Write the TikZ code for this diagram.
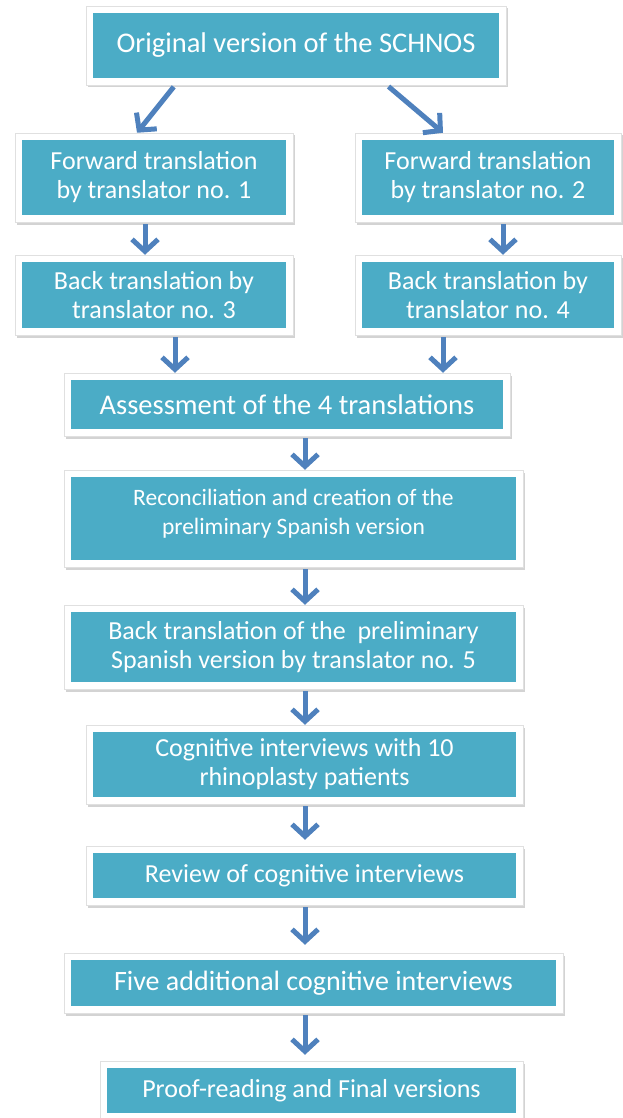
\documentclass[tikz,border=0pt]{standalone}
\usepackage{fontspec}
\setmainfont{Carlito}
\usetikzlibrary{positioning,arrows.meta,shadows}

\definecolor{boxteal}{RGB}{75,172,198}
\definecolor{arrowblue}{RGB}{79,129,189}

\begin{document}
\begin{tikzpicture}[x=1pt, y=-1pt,
  every node/.style={font=\fontsize{26}{29}\selectfont},
  stepbox/.style={rectangle, fill=white, draw=black!12, line width=0.5pt,
    text=white, align=center, inner sep=0pt,
    drop shadow={shadow xshift=1.5pt, shadow yshift=-2.5pt, opacity=0.35},
    path picture={\fill[boxteal]
      ([shift={(7pt,7pt)}]path picture bounding box.south west) rectangle
      ([shift={(-7pt,-7pt)}]path picture bounding box.north east);}},
  bigtext/.style={font=\fontsize{28.5}{32}\selectfont},
  flowarrow/.style={arrowblue, line width=5pt,
    -{Straight Barb[length=12pt, width=26pt]}, shorten <=2pt}]
  %----- page size (image coordinates, y downwards) -----
  \useasboundingbox (0,0) rectangle (623,1118);
  \coordinate (spine) at (305,0);

  %----- boxes -----
  \node[stepbox, bigtext, minimum width=420pt, minimum height=79pt] (orig) at (296,45.5)
    {Original version of the SCHNOS};
  % two translation branches
  \node[stepbox, minimum width=278pt, minimum height=89pt] (fwdA) at (154,177.5)
    {Forward translation\\by translator no. 1};
  \node[stepbox, minimum width=266pt, minimum height=89pt] (fwdB) at (488,177.5)
    {Forward translation\\by translator no. 2};
  \node[stepbox, minimum width=278pt, minimum height=80pt] (backA) at (154,295)
    {Back translation by\\translator no. 3};
  \node[stepbox, minimum width=266pt, minimum height=80pt] (backB) at (488,295)
    {Back translation by\\translator no. 4};
  % main column
  \node[stepbox, bigtext, minimum width=446pt, minimum height=63pt] (assess) at (287,404.5)
    {Assessment of the 4 translations};
  \node[stepbox, minimum width=459pt, minimum height=97pt, text depth=14pt,
        font=\fontsize{23.5}{29}\selectfont] (recon) at (293.5,518.5)
    {Reconciliation and creation of the\\preliminary Spanish version};
  \node[stepbox, minimum width=459pt, minimum height=84pt] (backprel) at (293.5,647)
    {Back translation of the\ \ preliminary\\Spanish version by translator no. 5};
  \node[stepbox, minimum width=437pt, minimum height=79pt] (cogn) at (304.5,764.5)
    {Cognitive interviews with 10\\rhinoplasty patients};
  \node[stepbox, minimum width=437pt, minimum height=59pt] (review) at (304.5,875.5)
    {Review of cognitive interviews};
  \node[stepbox, minimum width=499pt, minimum height=60pt,
        font=\fontsize{28}{32}\selectfont] (five) at (313.5,983)
    {Five additional cognitive interviews};
  \node[stepbox, minimum width=423pt, minimum height=59pt] (proof) at (311.5,1090.5)
    {Proof-reading and Final versions};

  %----- arrows -----
  \draw[flowarrow] ([xshift=-121pt]orig.south) -- ([xshift=-17pt]fwdA.north);
  \draw[flowarrow] ([xshift=91pt]orig.south) -- ([xshift=-45pt]fwdB.north);
  \draw[flowarrow] ([xshift=-9pt]fwdA.south) -- ([xshift=-9pt]backA.north);
  \draw[flowarrow] ([xshift=15pt]fwdB.south) -- ([xshift=15pt]backB.north);
  \draw[flowarrow] ([xshift=21pt]backA.south) -- ([xshift=21pt]backA.south |- assess.north);
  \draw[flowarrow] ([xshift=-45pt]backB.south) -- ([xshift=-45pt]backB.south |- assess.north);
  % main column, all on the spine
  \draw[flowarrow] (assess.south -| spine) -- (recon.north -| spine);
  \draw[flowarrow] (recon.south -| spine) -- (backprel.north -| spine);
  \draw[flowarrow] (backprel.south -| spine) -- (cogn.north -| spine);
  \draw[flowarrow, shorten >=6pt] (cogn.south -| spine) -- (review.north -| spine);
  \draw[flowarrow, shorten >=8pt] (review.south -| spine) -- (five.north -| spine);
  \draw[flowarrow, shorten >=6pt] (five.south -| spine) -- (proof.north -| spine);
\end{tikzpicture}
\end{document}
